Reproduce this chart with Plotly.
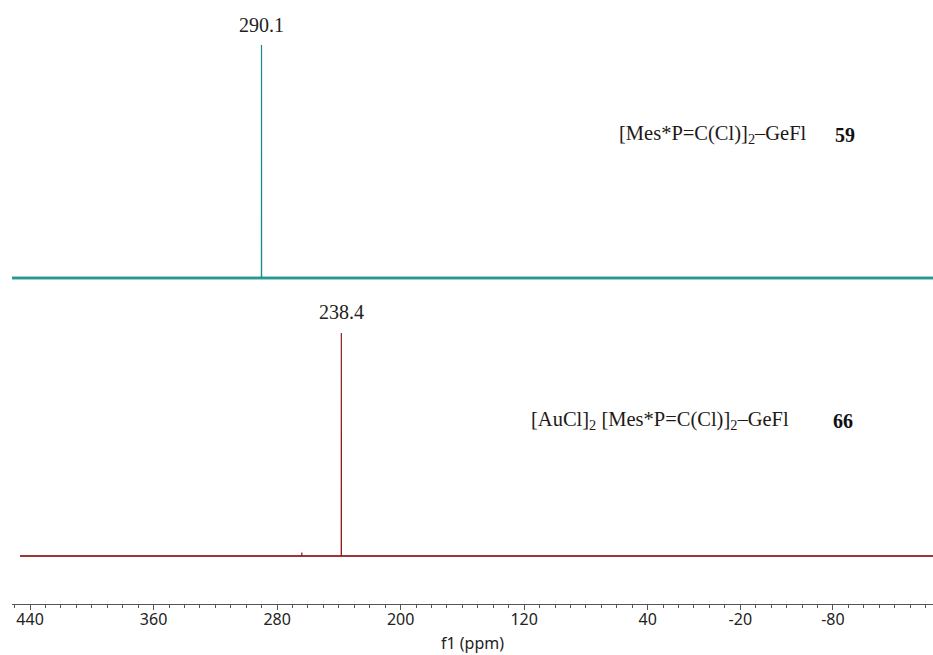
import plotly.graph_objects as go

# Chemical-shift window of the spectra (ppm, plotted high to low)
x_left = 451.7
x_right = -144.8

# 31P spectrum of compound 59
top_start = 451.7
top_peaks_ppm = [290.1]
top_peaks_height = [1.0]

# 31P spectrum of compound 66
bottom_start = 446.5
bottom_peaks_ppm = [264.0, 238.4]
bottom_peaks_height = [0.016, 1.0]

tick_values = [440, 360, 280, 200, 120, 40, -20, -80]
tick_labels = ["440", "360", "280", "200", "120", "40", "-20", "-80"]

top_label = "[Mes*P=C(Cl)]<sub>2</sub>–GeFl"
top_number = "59"
bottom_label = "[AuCl]<sub>2</sub> [Mes*P=C(Cl)]<sub>2</sub>–GeFl"
bottom_number = "66"

TEAL = "#138b8c"
DARK_RED = "#8e1b1d"
SERIF = "Liberation Serif"

W, H = 933, 655
ML, MB = 12, 51
PLOT_H = H - MB
PLOT_W = W - ML


def stick_spectrum(start, end, shifts, heights, half_width=0.06):
    """Baseline with narrow sticks inserted at each peak position."""
    xs, ys = [start], [0.0]
    for s, h in sorted(zip(shifts, heights), key=lambda p: -p[0]):
        xs += [s + half_width, s, s - half_width]
        ys += [0.0, h, 0.0]
    xs.append(end)
    ys.append(0.0)
    return xs, ys


def domain_for(baseline_px, peak_px, lo=-0.1, hi=1.01):
    scale = baseline_px - peak_px  # px per unit height
    bottom_px = baseline_px - lo * scale
    top_px = baseline_px - hi * scale
    return [(PLOT_H - bottom_px) / PLOT_H, (PLOT_H - top_px) / PLOT_H]


def xfrac(px):
    return (px - ML) / PLOT_W


def yfrac(px):
    return (PLOT_H - px) / PLOT_H


fig = go.Figure()

tx, ty = stick_spectrum(top_start, x_right, top_peaks_ppm, top_peaks_height)
bx, by = stick_spectrum(bottom_start, x_right, bottom_peaks_ppm, bottom_peaks_height)

# thicker strokes along the baselines, then the stick spectra on top
fig.add_trace(go.Scatter(x=[top_start, x_right], y=[0, 0], mode="lines",
                         line=dict(color=TEAL, width=2.8), yaxis="y2",
                         opacity=0.8, hoverinfo="skip", showlegend=False))
fig.add_trace(go.Scatter(x=tx, y=ty, mode="lines",
                         line=dict(color=TEAL, width=1.2), yaxis="y2",
                         showlegend=False))
fig.add_trace(go.Scatter(x=[bottom_start, x_right], y=[0, 0], mode="lines",
                         line=dict(color=DARK_RED, width=1.4), yaxis="y",
                         hoverinfo="skip", showlegend=False))
fig.add_trace(go.Scatter(x=bx, y=by, mode="lines",
                         line=dict(color=DARK_RED, width=1.2), yaxis="y",
                         showlegend=False))

LBL = 20
CMP = 20.5
annotations = [
    dict(x=top_peaks_ppm[0], xref="x", y=yfrac(25), yref="paper",
         text=f"{top_peaks_ppm[0]:.1f}", showarrow=False,
         font=dict(family=SERIF, size=LBL, color="#222222"),
         xanchor="center", yanchor="middle"),
    dict(x=bottom_peaks_ppm[1], xref="x", y=yfrac(312), yref="paper",
         text=f"{bottom_peaks_ppm[1]:.1f}", showarrow=False,
         font=dict(family=SERIF, size=LBL, color="#222222"),
         xanchor="center", yanchor="middle"),
    dict(x=xfrac(617), xref="paper", y=yfrac(135), yref="paper",
         text=top_label, showarrow=False,
         font=dict(family=SERIF, size=CMP, color="#1e1a16"),
         xanchor="left", yanchor="middle"),
    dict(x=xfrac(845), xref="paper", y=yfrac(135), yref="paper",
         text=f"<b>{top_number}</b>", showarrow=False,
         font=dict(family=SERIF, size=LBL, color="#111111"),
         xanchor="center", yanchor="middle"),
    dict(x=xfrac(529), xref="paper", y=yfrac(421), yref="paper",
         text=bottom_label, showarrow=False,
         font=dict(family=SERIF, size=CMP, color="#1e1a16"),
         xanchor="left", yanchor="middle"),
    dict(x=xfrac(843), xref="paper", y=yfrac(421), yref="paper",
         text=f"<b>{bottom_number}</b>", showarrow=False,
         font=dict(family=SERIF, size=LBL, color="#111111"),
         xanchor="center", yanchor="middle"),
]

fig.update_layout(
    width=W, height=H,
    margin=dict(l=ML, r=0, t=0, b=MB),
    paper_bgcolor="white", plot_bgcolor="white",
    showlegend=False,
    xaxis=dict(
        range=[x_left, x_right], automargin=False,
        anchor="free", position=0,
        tickmode="array", tickvals=tick_values, ticktext=tick_labels,
        ticks="outside", ticklen=5, tickwidth=1, tickcolor="#555555",
        ticklabelstandoff=-4,
        minor=dict(dtick=10, tick0=0, ticks="outside", ticklen=3,
                   tickwidth=1, tickcolor="#555555", showgrid=False),
        showline=True, linecolor="#555555", linewidth=1,
        showgrid=False, zeroline=False,
        tickfont=dict(family="Noto Sans", size=16, color="#222222"),
        title=dict(text="f1 (ppm)", standoff=8,
                   font=dict(family="Noto Sans", size=16, color="#222222")),
    ),
    yaxis=dict(domain=domain_for(556, 333), range=[-0.1, 1.01],
               visible=False, fixedrange=True),
    yaxis2=dict(domain=domain_for(278, 45), range=[-0.1, 1.01],
                visible=False, fixedrange=True, anchor="x"),
    annotations=annotations,
)

fig.write_html("out.html")
